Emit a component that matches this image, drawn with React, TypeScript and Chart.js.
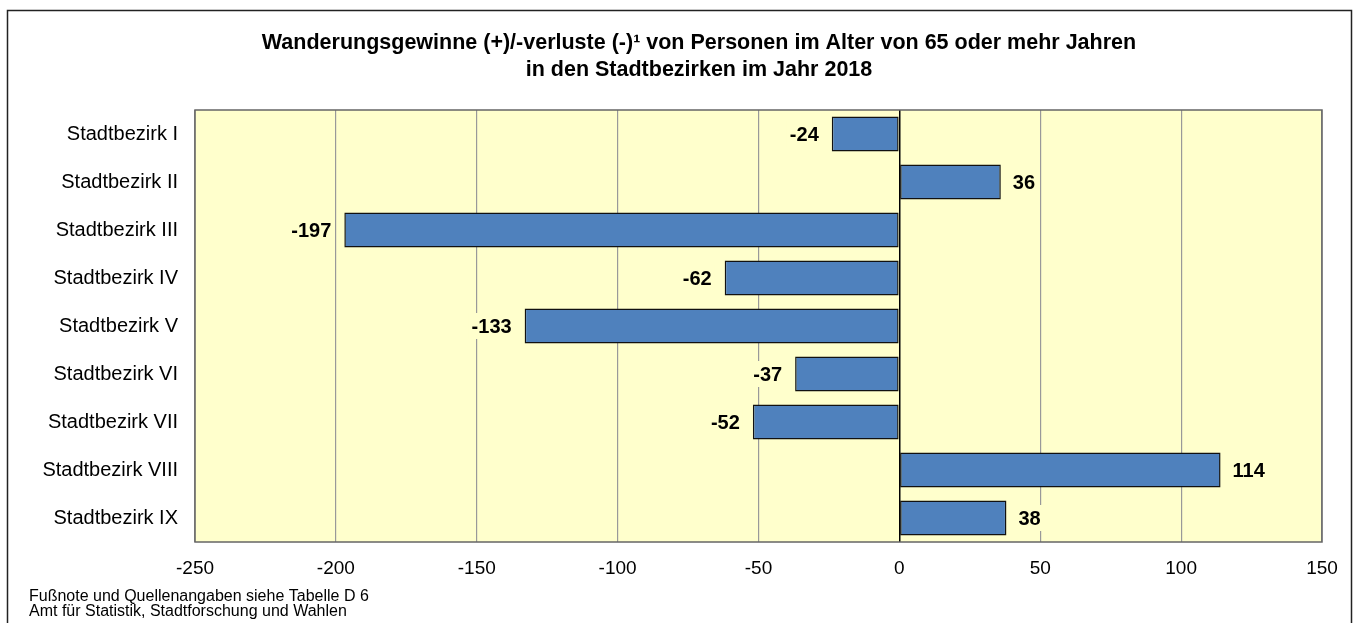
import React, { useEffect, useRef } from "react";
import { Chart, registerables } from "chart.js";

Chart.register(...registerables);

const categories = [
  "Stadtbezirk I",
  "Stadtbezirk II",
  "Stadtbezirk III",
  "Stadtbezirk IV",
  "Stadtbezirk V",
  "Stadtbezirk VI",
  "Stadtbezirk VII",
  "Stadtbezirk VIII",
  "Stadtbezirk IX",
];
const values = [-24, 36, -197, -62, -133, -37, -52, 114, 38];
const titleLines = [
  "Wanderungsgewinne (+)/-verluste (-)¹ von Personen im Alter von 65 oder mehr Jahren",
  "in den Stadtbezirken im Jahr 2018",
];
const footLines = [
  "Fußnote und Quellenangaben siehe Tabelle D 6",
  "Amt für Statistik, Stadtforschung und Wahlen",
];
const xMin = -250;
const xMax = 150;
const xStep = 50;

const FONT = "'Liberation Sans', Arial, sans-serif";

export default function App() {
  const ref = useRef<HTMLCanvasElement | null>(null);

  useEffect(() => {
    document.body.style.margin = "0";
    document.body.style.background = "#fff";
    const canvas = ref.current;
    if (!canvas) return;

    const decor = {
      id: "decor",
      beforeDraw(chart: any) {
        const { ctx, chartArea: a } = chart;
        ctx.save();
        ctx.fillStyle = "#fff";
        ctx.fillRect(0, 0, chart.width, chart.height);
        ctx.fillStyle = "#FFFFCC";
        ctx.fillRect(a.left, a.top, a.right - a.left, a.bottom - a.top);
        ctx.restore();
      },
      afterDraw(chart: any) {
        const { ctx, chartArea: a } = chart;
        ctx.save();
        // plot border
        ctx.strokeStyle = "#666";
        ctx.lineWidth = 1.5;
        ctx.strokeRect(a.left, a.top, a.right - a.left, a.bottom - a.top);
        // outer border
        ctx.strokeStyle = "#222";
        ctx.lineWidth = 1.5;
        ctx.beginPath();
        ctx.moveTo(7.5, 640);
        ctx.lineTo(7.5, 10.5);
        ctx.lineTo(1351.5, 10.5);
        ctx.lineTo(1351.5, 640);
        ctx.stroke();
        // title
        ctx.fillStyle = "#000";
        ctx.font = `bold 21.5px ${FONT}`;
        ctx.textAlign = "center";
        ctx.textBaseline = "alphabetic";
        ctx.fillText(titleLines[0], 699, 49);
        ctx.fillText(titleLines[1], 699, 76);
        // footnote
        ctx.font = `16px ${FONT}`;
        ctx.textAlign = "left";
        ctx.fillText(footLines[0], 29, 601);
        ctx.fillText(footLines[1], 29, 616);
        ctx.restore();
      },
      afterDatasetsDraw(chart: any) {
        const { ctx } = chart;
        const meta = chart.getDatasetMeta(0);
        ctx.save();
        ctx.font = `bold 20px ${FONT}`;
        ctx.textBaseline = "middle";
        meta.data.forEach((bar: any, i: number) => {
          const v = values[i];
          const txt = String(v);
          const w = ctx.measureText(txt).width;
          let x0: number;
          if (v < 0) {
            x0 = bar.x - 13 - w;
          } else {
            x0 = bar.x + 12;
          }
          ctx.fillStyle = "#FFFFCC";
          ctx.fillRect(x0 - 3, bar.y - 13, w + 6, 26);
          ctx.fillStyle = "#000";
          ctx.textAlign = "left";
          ctx.fillText(txt, x0, bar.y + 1);
        });
        ctx.restore();
      },
    };

    const chart = new Chart(canvas, {
      type: "bar",
      data: {
        labels: categories,
        datasets: [
          {
            data: values,
            backgroundColor: "#4F81BD",
            borderColor: "#111",
            borderWidth: 1.5,
            borderSkipped: false,
            barPercentage: 0.73,
            categoryPercentage: 1,
          },
        ],
      },
      options: {
        indexAxis: "y",
        responsive: false,
        animation: false,
        layout: { padding: { top: 110, left: 0, right: 32, bottom: 0 } },
        plugins: {
          legend: { display: false },
          title: { display: false },
          tooltip: { enabled: false },
        },
        scales: {
          x: {
            min: xMin,
            max: xMax,
            ticks: {
              stepSize: xStep,
              color: "#000",
              font: { family: FONT, size: 19 },
              padding: 15,
            },
            grid: {
              drawTicks: false,
              color: (c: any) => (c.tick && c.tick.value === 0 ? "#000" : "#999"),
              lineWidth: (c: any) => (c.tick && c.tick.value === 0 ? 1.5 : 1.2),
            },
            border: { display: false },
            afterFit(scale: any) {
              scale.height = 81;
            },
          },
          y: {
            ticks: {
              color: "#000",
              font: { family: FONT, size: 20 },
              padding: 17,
            },
            grid: { display: false, drawTicks: false },
            border: { display: false },
            afterFit(scale: any) {
              scale.width = 195;
            },
          },
        },
      },
      plugins: [decor],
    });

    return () => chart.destroy();
  }, []);

  return (
    <canvas
      ref={ref}
      width={1354}
      height={623}
      style={{ display: "block", width: 1354, height: 623 }}
    />
  );
}
